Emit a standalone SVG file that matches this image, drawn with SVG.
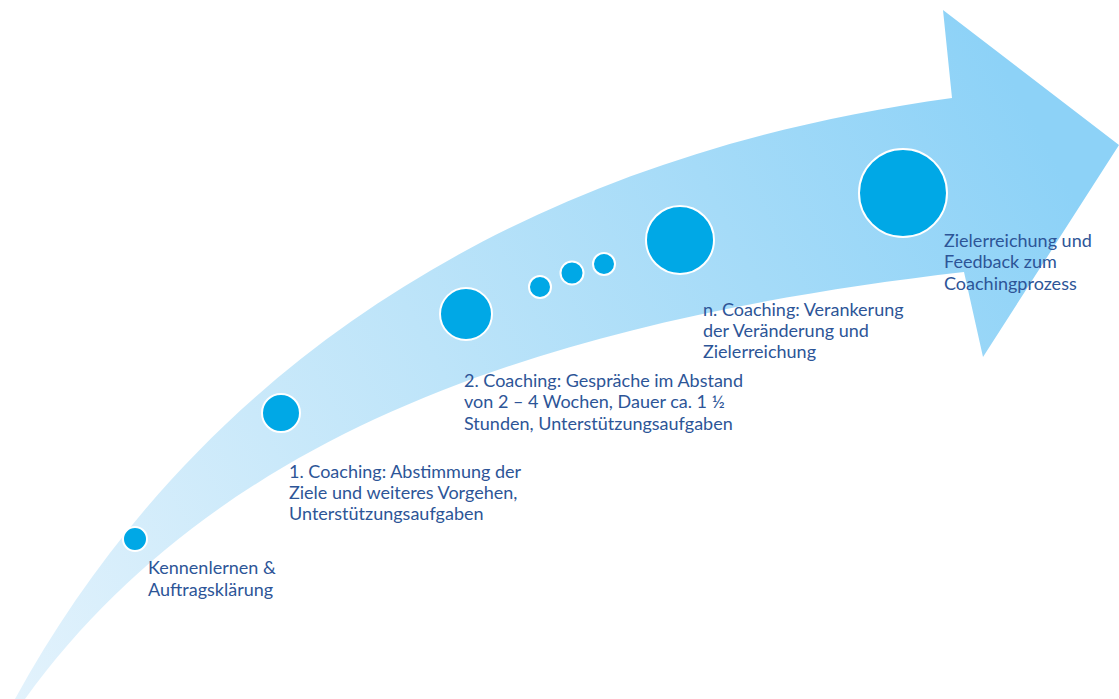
<svg xmlns="http://www.w3.org/2000/svg" width="1119" height="699" viewBox="0 0 1119 699">
<defs>
<linearGradient id="arrowGrad" gradientUnits="userSpaceOnUse" x1="20" y1="699" x2="1050" y2="150">
<stop offset="0" stop-color="#e2f2fc"/>
<stop offset="0.45" stop-color="#bde4f9"/>
<stop offset="1" stop-color="#8dd2f7"/>
</linearGradient>
<style>
.dot{fill:#00a8e6;stroke:#ffffff;stroke-width:2}
.lbl{font-family:Lato,"Liberation Sans",sans-serif;font-size:18px;fill:#2d5597}
</style>
</defs>
<rect width="1119" height="699" fill="#ffffff"/>
<g id="arrow">
<path d="M 15 699 C 190 380, 500 160, 952 98 L 943 10 L 1119 145 L 983 357 L 964 272 C 550 320, 220 430, 25 699 Z" fill="url(#arrowGrad)"/>
</g>
<g id="step-kennenlernen">
<circle class="dot" cx="135" cy="539" r="12"/>
<text class="lbl"><tspan x="148" y="574">Kennenlernen &amp;</tspan><tspan x="148" y="596">Auftragsklärung</tspan></text>
</g>
<g id="step-coaching1">
<circle class="dot" cx="281" cy="413" r="19"/>
<text class="lbl"><tspan x="289" y="478">1. Coaching: Abstimmung der</tspan><tspan x="289" y="499">Ziele und weiteres Vorgehen,</tspan><tspan x="289" y="520">Unterstützungsaufgaben</tspan></text>
</g>
<g id="step-coaching2">
<circle class="dot" cx="466" cy="314" r="26"/>
<text class="lbl"><tspan x="464" y="387">2. Coaching: Gespräche im Abstand</tspan><tspan x="464" y="408">von 2 – 4 Wochen, Dauer ca. 1 ½</tspan><tspan x="464" y="430">Stunden, Unterstützungsaufgaben</tspan></text>
</g>
<g id="ellipsis-dots">
<circle class="dot" cx="540" cy="287" r="11"/>
<circle class="dot" cx="572" cy="273" r="11.5"/>
<circle class="dot" cx="604" cy="264" r="11"/>
</g>
<g id="step-coachingN">
<circle class="dot" cx="680" cy="240" r="34"/>
<text class="lbl"><tspan x="703" y="316">n. Coaching: Verankerung</tspan><tspan x="703" y="337">der Veränderung und</tspan><tspan x="703" y="358">Zielerreichung</tspan></text>
</g>
<g id="step-ziel">
<circle class="dot" cx="903" cy="193" r="44"/>
<text class="lbl"><tspan x="944" y="247">Zielerreichung und</tspan><tspan x="944" y="268">Feedback zum</tspan><tspan x="944" y="290">Coachingprozess</tspan></text>
</g>
<g id="connectors"/>
</svg>
